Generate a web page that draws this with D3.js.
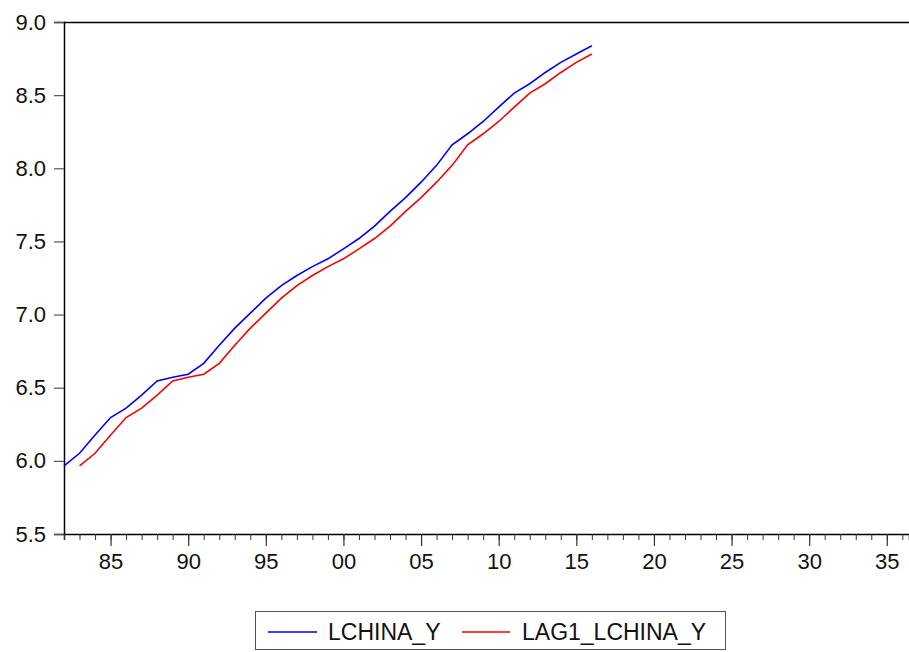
<!DOCTYPE html>
<html>
<head>
<meta charset="utf-8">
<script src="https://cdn.jsdelivr.net/npm/d3@7"></script>
<style>
  html, body { margin: 0; padding: 0; background: #fff; }
  svg { display: block; font-family: "Liberation Sans", Arial, sans-serif; }
</style>
</head>
<body>
<svg id="chart" width="909" height="652"></svg>
<script>
// ---- data ----
const yearsBlue = [1982,1983,1984,1985,1986,1987,1988,1989,1990,1991,1992,1993,1994,1995,1996,1997,1998,1999,2000,2001,2002,2003,2004,2005,2006,2007,2008,2009,2010,2011,2012,2013,2014,2015,2016];
const lchinaY = [5.965,6.052,6.177,6.296,6.360,6.450,6.546,6.572,6.592,6.667,6.790,6.907,7.010,7.112,7.198,7.267,7.328,7.381,7.449,7.520,7.605,7.705,7.800,7.905,8.020,8.161,8.236,8.320,8.418,8.514,8.578,8.655,8.724,8.781,8.838];
const yearsRed = [1983,1984,1985,1986,1987,1988,1989,1990,1991,1992,1993,1994,1995,1996,1997,1998,1999,2000,2001,2002,2003,2004,2005,2006,2007,2008,2009,2010,2011,2012,2013,2014,2015,2016];
const lag1LchinaY = [5.965,6.052,6.177,6.296,6.360,6.450,6.546,6.572,6.592,6.667,6.790,6.907,7.010,7.112,7.198,7.267,7.328,7.381,7.449,7.520,7.605,7.705,7.800,7.905,8.020,8.161,8.236,8.320,8.418,8.514,8.578,8.655,8.724,8.781];
const yTicks = [5.5,6.0,6.5,7.0,7.5,8.0,8.5,9.0];
const xMajorTicks = [1985,1990,1995,2000,2005,2010,2015,2020,2025,2030,2035];
const seriesNames = ["LCHINA_Y","LAG1_LCHINA_Y"];
const seriesColors = ["#0000ff","#ff0000"];

// ---- layout ----
const svg = d3.select("#chart");
const pLeft = 64, pRight = 909, pTop = 22, pBottom = 534;

const x = d3.scaleLinear().domain([1982, 2036.43]).range([pLeft, pRight]);
const y = d3.scaleLinear().domain([5.5, 9.0]).range([pBottom, pTop]);

// frame top line
svg.append("line").attr("x1", pLeft).attr("x2", pRight).attr("y1", pTop + 0.5).attr("y2", pTop + 0.5)
  .attr("stroke", "#000").attr("stroke-width", 1.5);

// y axis
const yAxis = d3.axisLeft(y).tickValues(yTicks).tickFormat(d3.format(".1f")).tickSize(10).tickPadding(8);
const gy = svg.append("g").attr("transform", `translate(${pLeft},0)`).call(yAxis);
gy.select(".domain").attr("stroke", "#000").attr("stroke-width", 1.5);
gy.selectAll(".tick line").attr("stroke", "#555").attr("stroke-width", 1.2);
gy.selectAll(".tick text").attr("font-size", 22).attr("fill", "#111")
  .attr("font-family", "Liberation Sans, Arial, sans-serif");

// x axis minor ticks
const minorYears = d3.range(1982, 2037);
const xMinor = d3.axisBottom(x).tickValues(minorYears).tickSize(6).tickFormat("");
const gxm = svg.append("g").attr("transform", `translate(0,${pBottom})`).call(xMinor);
gxm.select(".domain").attr("stroke", "#000").attr("stroke-width", 1.5);
gxm.selectAll(".tick line").attr("stroke", "#333").attr("stroke-width", 1);

// x axis major ticks
const xMajor = d3.axisBottom(x).tickValues(xMajorTicks).tickSize(12).tickPadding(7)
  .tickFormat(d => String(d % 100).padStart(2, "0"));
const gx = svg.append("g").attr("transform", `translate(0,${pBottom})`).call(xMajor);
gx.select(".domain").remove();
gx.selectAll(".tick line").attr("stroke", "#333").attr("stroke-width", 1.2);
gx.selectAll(".tick text").attr("font-size", 22).attr("fill", "#111")
  .attr("font-family", "Liberation Sans, Arial, sans-serif");

// lines
const line = d3.line().x(d => x(d[0])).y(d => y(d[1]));
svg.append("path").datum(yearsRed.map((yr, i) => [yr, lag1LchinaY[i]]))
  .attr("d", line).attr("fill", "none").attr("stroke", seriesColors[1]).attr("stroke-width", 1.6);
svg.append("path").datum(yearsBlue.map((yr, i) => [yr, lchinaY[i]]))
  .attr("d", line).attr("fill", "none").attr("stroke", seriesColors[0]).attr("stroke-width", 1.6);

// legend
const lg = svg.append("g");
lg.append("rect").attr("x", 255.5).attr("y", 611.5).attr("width", 470).attr("height", 38)
  .attr("fill", "#fff").attr("stroke", "#555").attr("stroke-width", 1);
const legendItems = [
  {x1: 268, x2: 317, tx: 328},
  {x1: 462, x2: 510, tx: 522}
];
legendItems.forEach((it, i) => {
  lg.append("line").attr("x1", it.x1).attr("x2", it.x2).attr("y1", 632).attr("y2", 632)
    .attr("stroke", seriesColors[i]).attr("stroke-width", 1.6);
  lg.append("text").attr("x", it.tx).attr("y", 640).attr("font-size", 23).attr("fill", "#111")
    .text(seriesNames[i]);
});
</script>
</body>
</html>
